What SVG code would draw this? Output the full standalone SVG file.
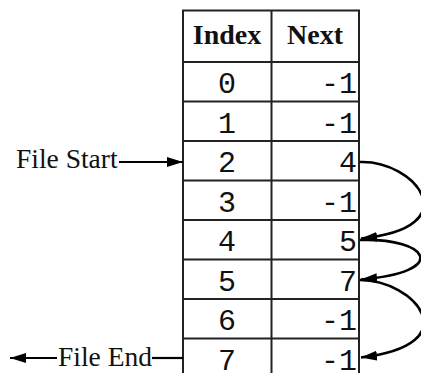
<svg xmlns="http://www.w3.org/2000/svg" width="421" height="373" viewBox="0 0 421 373">
<style>
.grid{fill:none;stroke:#222;stroke-width:2}
.hdr{font-family:"Liberation Serif",serif;font-weight:bold;font-size:28px;fill:#111;text-anchor:middle}
.num{font-family:"Liberation Mono",monospace;font-size:30px;fill:#111}
.idx{text-anchor:middle}
.nxt{text-anchor:end}
.lbl{font-family:"Liberation Serif",serif;font-size:27.5px;fill:#111}
.ln{fill:none;stroke:#000;stroke-width:2.2}
.cv{fill:none;stroke:#000;stroke-width:2.6}
</style>
<defs>
<marker id="ah" markerUnits="userSpaceOnUse" markerWidth="18" markerHeight="12" refX="16" refY="5" orient="auto">
<path d="M0,0 L16,5 L0,10 z" fill="#000"/>
</marker>
</defs>
<rect width="421" height="373" fill="#fff"/>
<g id="table">
<rect class="grid" x="183" y="10.5" width="176" height="368"/>
<line class="grid" x1="271.5" y1="10.5" x2="271.5" y2="378"/>
<line class="grid" x1="183" y1="62" x2="359" y2="62"/>
<line class="grid" x1="183" y1="101.5" x2="359" y2="101.5"/>
<line class="grid" x1="183" y1="141" x2="359" y2="141"/>
<line class="grid" x1="183" y1="180.5" x2="359" y2="180.5"/>
<line class="grid" x1="183" y1="220" x2="359" y2="220"/>
<line class="grid" x1="183" y1="259.5" x2="359" y2="259.5"/>
<line class="grid" x1="183" y1="299" x2="359" y2="299"/>
<line class="grid" x1="183" y1="338.5" x2="359" y2="338.5"/>
<text class="hdr" x="227" y="44">Index</text>
<text class="hdr" x="315" y="44">Next</text>
</g>
<g id="row0"><text class="num idx" x="227" y="93">0</text><text class="num nxt" x="357" y="93">-1</text></g>
<g id="row1"><text class="num idx" x="227" y="132.5">1</text><text class="num nxt" x="357" y="132.5">-1</text></g>
<g id="row2"><text class="num idx" x="227" y="172">2</text><text class="num nxt" x="357" y="172">4</text></g>
<g id="row3"><text class="num idx" x="227" y="211.5">3</text><text class="num nxt" x="357" y="211.5">-1</text></g>
<g id="row4"><text class="num idx" x="227" y="251">4</text><text class="num nxt" x="357" y="251">5</text></g>
<g id="row5"><text class="num idx" x="227" y="290.5">5</text><text class="num nxt" x="357" y="290.5">7</text></g>
<g id="row6"><text class="num idx" x="227" y="330">6</text><text class="num nxt" x="357" y="330">-1</text></g>
<g id="row7"><text class="num idx" x="227" y="369.5">7</text><text class="num nxt" x="357" y="369.5">-1</text></g>
<g id="fileStart"><text class="lbl" x="16" y="168">File Start</text></g>
<g id="fileEnd"><text class="lbl" x="58" y="366">File End</text></g>
<g id="connectors">
<line class="ln" x1="119" y1="162" x2="183" y2="162" marker-end="url(#ah)"/>
<line class="ln" x1="152" y1="358" x2="183" y2="358"/>
<line class="ln" x1="57" y1="358" x2="10" y2="358" marker-end="url(#ah)"/>
<path class="cv" d="M360,162 C415,160 470,228 361,238.5" marker-end="url(#ah)"/>
<path class="cv" d="M360,240 C430,238 450,272 361,279.5" marker-end="url(#ah)"/>
<path class="cv" d="M360,280 C415,280 470,345 361,357.5" marker-end="url(#ah)"/>
</g>
</svg>
